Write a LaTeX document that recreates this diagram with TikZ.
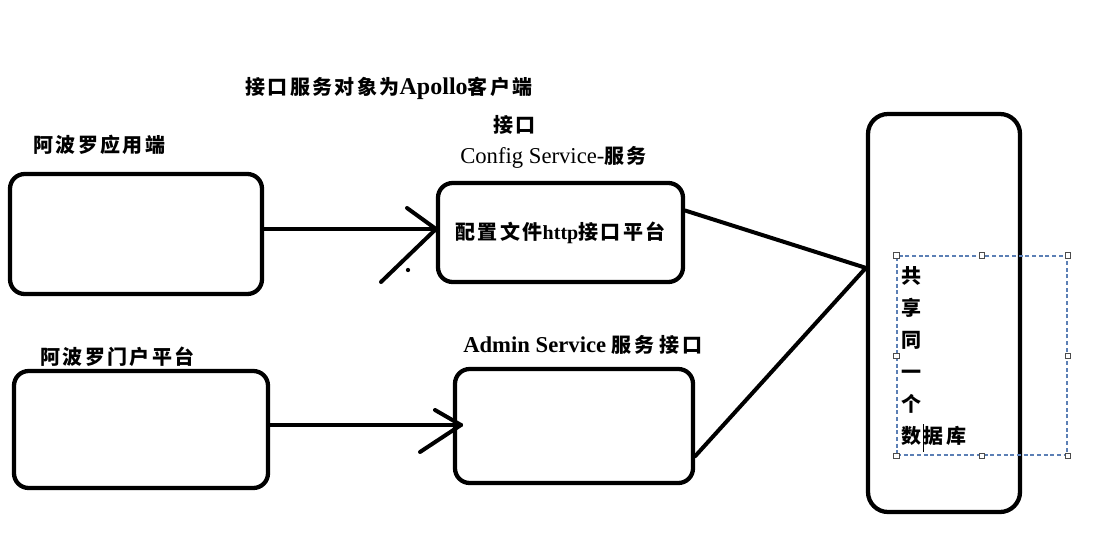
\documentclass[tikz,border=0pt]{standalone}
\usepackage{fontspec}
\setmainfont{Liberation Serif}
\newfontfamily\cjkfont[LetterSpace=12]{Noto Sans CJK SC}
\newcommand\zhs[1]{{\cjkfont\bfseries\fontsize{15pt}{16pt}\selectfont #1}}
\definecolor{dashblue}{HTML}{5B7FB5}
\begin{document}
\begin{tikzpicture}[x=0.75pt,y=-0.75pt,
  box/.style={draw, line width=3.2pt, rounded corners=11pt, inner sep=0pt},
  conn/.style={line width=3pt, line cap=round},
  lbl/.style={inner sep=0pt, anchor=west, font=\fontsize{17pt}{18pt}\selectfont},
  handle/.style={draw=gray!60!black, fill=white, line width=0.5pt, minimum size=4pt, inner sep=0pt}]
\useasboundingbox[fill=white] (0,0) rectangle (1105,535);

% boxes
\node[box, minimum width=189pt, minimum height=90pt] (A) at (136,234) {};
\node[box, minimum width=190.5pt, minimum height=87.75pt] (B) at (141,429.5) {};
\node[box, minimum width=183.75pt, minimum height=74.25pt] (C) at (560.5,232.5)
  {\zhs{配置文件}{\bfseries\fontsize{15pt}{16pt}\selectfont http}\zhs{接口平台}};
\node[box, minimum width=178.5pt, minimum height=85.5pt] (D) at (574,426) {};
\node[box, rounded corners=15pt, minimum width=114pt, minimum height=298.5pt] (E) at (944,313) {};

% labels
\node[lbl] (title) at (245,88) {\zhs{接口服务对象为}{\bfseries\fontsize{18pt}{18pt}\selectfont Apollo}\zhs{客户端}};
\node[lbl] (jk) at (493,125) {\zhs{接口}};
\node[lbl] (cs) at (460,157) {Config Service-\zhs{服务}};
\node[lbl] (la) at (33,145) {\zhs{阿波罗应用端}};
\node[lbl] (lb) at (40,357) {\zhs{阿波罗门户平台}};
\node[lbl] (ad) at (463,345) {\bfseries Admin Service \zhs{服务} \zhs{接口}};

% arrow A -> C
\coordinate (t1) at (436,229);
\draw[conn] (A.east |- t1) -- (t1);
\draw[conn] (t1) -- ++(-29,-21);
\draw[conn] (t1) -- ++(-55,53);
\fill (408,270) circle (1.6pt);

% arrow B -> D
\coordinate (t2) at (461,425);
\draw[conn] (B.east |- t2) -- (t2);
\draw[conn] (t2) -- ++(-26,-15);
\draw[conn] (t2) -- ++(-41,27);

% lines to database box
\draw[conn] (C.10) -- (E.150);
\draw[conn] (D.-14) -- (E.150);

% selection box with text
\node[draw=dashblue, dash pattern=on 3pt off 2pt, line width=0.8pt, minimum width=127.5pt, minimum height=149.25pt, inner sep=0pt] (sel) at (982,355.5) {};
\foreach \a in {north west,north,north east,west,east,south west,south,south east}
  \node[handle] at (sel.\a) {};
\node[inner sep=0pt, anchor=north west, align=left, font=\cjkfont\bfseries\fontsize{15pt}{24pt}\selectfont] (db) at (901,266)
  {共\\享\\同\\一\\个\\数据库};
\draw[line width=0.7pt] (923.5,424) -- (923.5,452);
\end{tikzpicture}
\end{document}
